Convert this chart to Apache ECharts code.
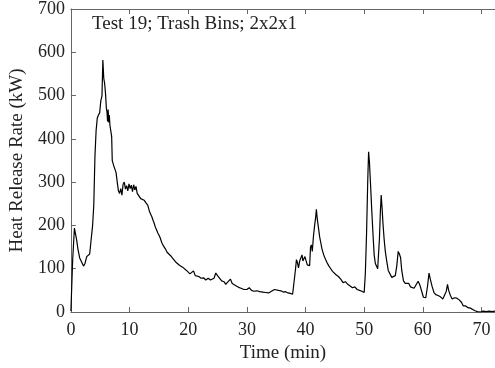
<!DOCTYPE html>
<html>
<head>
<meta charset="utf-8">
<script src="https://cdn.jsdelivr.net/npm/echarts@6/dist/echarts.min.js"></script>
<style>
  html, body { margin: 0; padding: 0; background: #fff; }
  #J_chart { width: 495px; height: 368px; }
</style>
</head>
<body>
<div id="J_chart"></div>
<script>
// 数据: [时间(min), 热释放率(kW)]
const growthPhase = [
    [0, 2], [0.3, 120], [0.6, 194], [0.8, 190], [1.0, 165], [1.2, 145], [1.5, 125], [1.8, 128],
    [2.15, 106], [2.4, 112], [2.7, 128], [3.0, 132], [3.2, 134], [3.45, 167], [3.7, 200], [3.9, 247],
    [4.1, 360], [4.3, 420], [4.5, 448], [4.7, 455], [4.9, 460], [5.1, 488], [5.3, 500], [5.45, 582],
    [5.6, 540], [5.75, 528], [5.9, 505], [6.05, 470], [6.15, 462], [6.25, 440], [6.35, 468], [6.45, 438],
    [6.55, 455], [6.65, 432], [6.8, 430], [6.95, 405], [7.05, 350], [7.15, 345], [7.3, 338], [7.5, 330],
    [7.7, 322], [7.9, 300]
];

const decayPhase = [
    [8.1, 280], [8.3, 274], [8.5, 285], [8.7, 270], [8.9, 295], [9.1, 300], [9.3, 284], [9.5, 292],
    [9.7, 280], [9.9, 296], [10.1, 285], [10.3, 293], [10.5, 278], [10.7, 294], [10.9, 282], [11.1, 290],
    [11.3, 274], [11.6, 276], [11.9, 262], [12.2, 266], [12.5, 258], [12.8, 252], [13.1, 247], [13.4, 232],
    [13.6, 226], [13.8, 220], [14.0, 212], [14.2, 205], [14.4, 196], [14.6, 190], [14.8, 183], [15.0, 178],
    [15.2, 172], [15.5, 160], [15.8, 152], [16.1, 146], [16.4, 138], [16.7, 136], [17.0, 130], [17.3, 128],
    [17.6, 120], [17.9, 115], [18.2, 112], [18.5, 108], [18.8, 104], [19.1, 103], [19.4, 100], [19.7, 96],
    [20.0, 97], [20.3, 88], [20.6, 92], [20.9, 95], [21.2, 84], [21.5, 80], [21.8, 82], [22.2, 78],
    [22.6, 79], [23.0, 74], [23.4, 78], [23.8, 74], [24.1, 70], [24.4, 78], [24.7, 90], [25.0, 84],
    [25.3, 86], [25.7, 72], [26.1, 70], [26.4, 64], [26.8, 70], [27.2, 76], [27.5, 66], [27.8, 63],
    [28.2, 60], [28.6, 57], [29.0, 55], [29.5, 52], [30.0, 52], [30.4, 56], [30.8, 50], [31.2, 48],
    [31.7, 49], [32.2, 47], [32.7, 46], [33.2, 45], [33.7, 44], [34.2, 48], [34.7, 52], [35.0, 56],
    [35.4, 50], [35.8, 49], [36.2, 46], [36.6, 47], [37.0, 44], [37.4, 43], [37.8, 41]
];

const secondFire = [
    [38.1, 38], [38.3, 100], [38.45, 121], [38.6, 115], [38.8, 102], [39.0, 118], [39.2, 125], [39.4, 132],
    [39.55, 118], [39.7, 121], [39.9, 128], [40.1, 118], [40.3, 109], [40.5, 112], [40.7, 107], [40.85, 150],
    [41.0, 155], [41.15, 140], [41.35, 175], [41.55, 200], [41.7, 215], [41.85, 237], [42.0, 215], [42.15, 200],
    [42.4, 174], [42.6, 160], [42.8, 146], [43.1, 132], [43.4, 122], [43.7, 113], [44.0, 106], [44.3, 100],
    [44.6, 94], [44.9, 90], [45.2, 86], [45.6, 82], [46.0, 76], [46.4, 68], [46.8, 70], [47.2, 64],
    [47.6, 60], [48.0, 56], [48.4, 58], [48.8, 52], [49.2, 50], [49.6, 48], [50.0, 45]
];

const thirdFire = [
    [50.2, 90], [50.4, 180], [50.6, 300], [50.75, 370], [50.9, 345], [51.1, 290], [51.3, 232], [51.5, 180],
    [51.7, 132], [51.9, 112], [52.1, 108], [52.3, 100], [52.45, 102], [52.6, 170], [52.75, 230], [52.9, 270],
    [53.05, 240], [53.2, 205], [53.4, 168], [53.6, 140], [53.85, 117], [54.1, 96], [54.4, 98], [54.7, 80],
    [55.0, 78], [55.3, 84], [55.55, 106], [55.8, 140], [56.0, 134], [56.2, 126], [56.4, 96], [56.7, 72],
    [57.0, 66], [57.3, 62], [57.6, 66], [57.9, 58], [58.2, 62], [58.5, 55], [58.8, 54], [59.2, 71],
    [59.5, 62], [59.8, 48], [60.1, 34], [60.5, 33], [60.8, 60], [61.05, 90], [61.3, 74], [61.6, 58],
    [61.9, 45], [62.2, 40], [62.6, 38], [63.0, 35], [63.4, 30], [63.7, 26], [64.0, 48], [64.2, 64],
    [64.4, 50], [64.7, 38], [65.0, 30], [65.4, 33], [65.8, 32], [66.2, 28], [66.6, 22], [66.9, 14],
    [67.3, 14], [67.7, 10], [68.1, 9], [68.5, 6], [68.9, 3], [69.3, 1], [69.8, 0], [70.3, 2],
    [70.8, 1], [71.3, 2], [71.8, 1], [72.3, 2]
];

const TITLE = 'Test 19; Trash Bins; 2x2x1';
const FONT = '"Liberation Serif", "DejaVu Serif", serif';
const AXIS_COLOR = '#666';
const TEXT_COLOR = '#222';

function initChart() {
    let hrrData = growthPhase.concat(decayPhase, secondFire, thirdFire);

    let tickAxis = {
        type: 'value',
        min: 0,
        max: 72.3,
        interval: 10,
        axisLine: {show: true, lineStyle: {color: AXIS_COLOR, width: 1}},
        axisTick: {show: true, inside: true, length: 5, lineStyle: {color: AXIS_COLOR}},
        splitLine: {show: false}
    };

    let options = {
        animation: false,
        backgroundColor: '#fff',
        title: {
            text: TITLE,
            left: 87,
            top: 10,
            textStyle: {
                fontFamily: FONT,
                fontSize: 19,
                fontWeight: 'normal',
                color: TEXT_COLOR
            }
        },
        grid: {
            left: 70,
            right: 0,
            top: 7,
            bottom: 55
        },
        xAxis: [Object.assign({}, tickAxis, {
            position: 'bottom',
            name: 'Time (min)',
            nameLocation: 'middle',
            nameGap: 32,
            nameTextStyle: {fontFamily: FONT, fontSize: 19, color: TEXT_COLOR},
            axisLabel: {
                show: true,
                fontFamily: FONT,
                fontSize: 18,
                color: TEXT_COLOR,
                margin: 9,
                showMaxLabel: false
            }
        }), Object.assign({}, tickAxis, {
            position: 'top',
            axisLabel: {show: false}
        })],
        yAxis: {
            type: 'value',
            min: 0,
            max: 700,
            interval: 100,
            name: 'Heat Release Rate (kW)',
            nameLocation: 'middle',
            nameGap: 40,
            nameTextStyle: {fontFamily: FONT, fontSize: 19, color: TEXT_COLOR},
            axisLine: {show: true, lineStyle: {color: AXIS_COLOR, width: 1}},
            axisTick: {show: true, inside: true, length: 5, lineStyle: {color: AXIS_COLOR}},
            axisLabel: {
                fontFamily: FONT,
                fontSize: 18,
                color: TEXT_COLOR,
                margin: 6
            },
            splitLine: {show: false}
        },
        series: [{
            type: 'line',
            xAxisIndex: 0,
            symbol: 'none',
            lineStyle: {color: '#000', width: 1.2},
            data: hrrData
        }]
    };

    let chart = echarts.init(document.getElementById('J_chart'));
    chart.setOption(options);
}

initChart();
</script>
</body>
</html>
